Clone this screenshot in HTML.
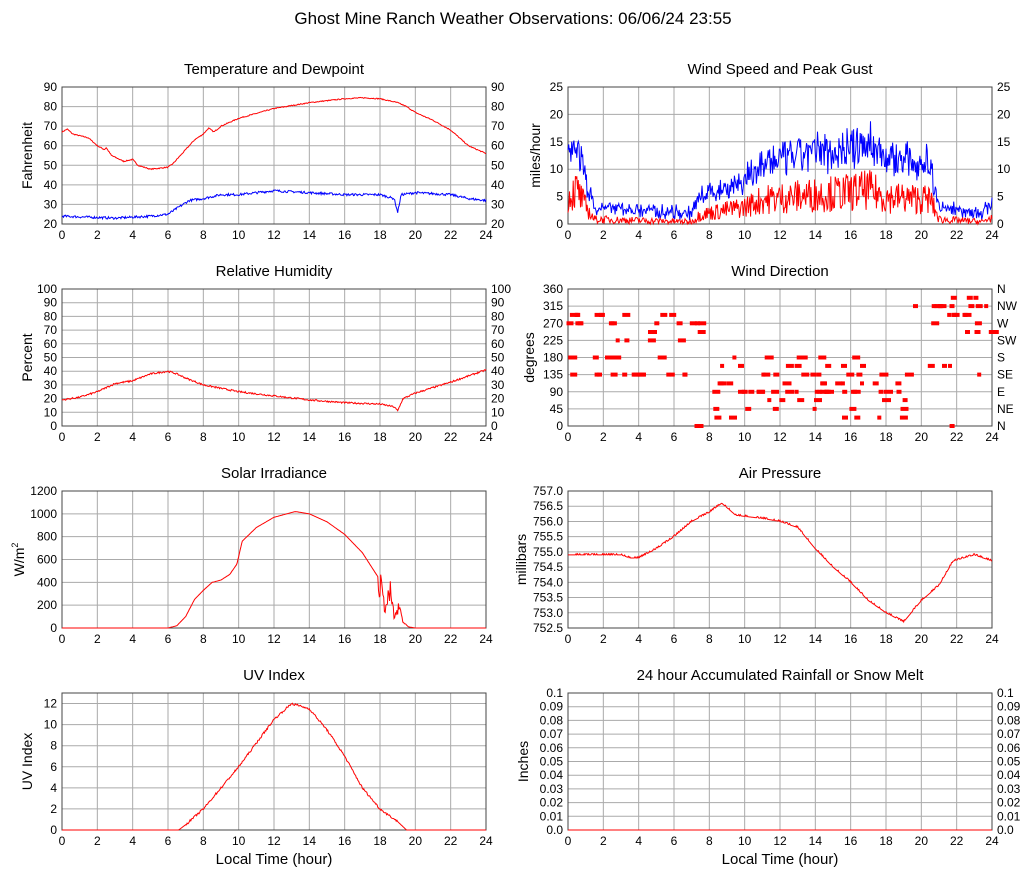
<!DOCTYPE html><html><head><meta charset="utf-8"><style>body{margin:0;background:#fff}svg{display:block;font-family:"Liberation Sans",sans-serif}</style></head><body>
<svg id="s" width="1027" height="878" xmlns="http://www.w3.org/2000/svg"></svg>
<script>
var s=document.getElementById('s'),h='';
var seed=7;function rnd(){seed=(seed*16807)%2147483647;return seed/2147483647;}
function lerp(k,t){for(var i=1;i<k.length;i++){if(t<=k[i][0]){var a=k[i-1],b=k[i];return a[1]+(b[1]-a[1])*(t-a[0])/(b[0]-a[0]);}}return k[k.length-1][1];}
function T(x,y,t,o){h+='<text x="'+x+'" y="'+y+'" '+(o||'')+'>'+t+'</text>';}
function panel(px,py,title,ymin,ymax,step,ylab,right,dec,xlab,rl,ll,nn,off){
 var W=424,H=137;
 T(px+W/2,py-13,title,'font-size="15" text-anchor="middle"');
 var n=nn||Math.round((ymax-ymin)/step);
 for(var i=0;i<=12;i++){var x=px+i*W/12;h+='<line x1="'+x+'" y1="'+py+'" x2="'+x+'" y2="'+(py+H)+'" stroke="#aaa"/>';T(x,py+H+15,i*2,'font-size="12" text-anchor="middle"');}
 for(var j=0;j<=n;j++){var y=py+H-(j*step)/(ymax-ymin)*H,v=ll?ll[j]:(ymin+j*step).toFixed(dec);h+='<line x1="'+px+'" y1="'+y+'" x2="'+(px+W)+'" y2="'+y+'" stroke="#aaa"/>';T(px-5,y+4,v,'font-size="12" text-anchor="end"');if(right)T(px+W+5,y+4,rl?rl[j]:v,'font-size="12"');}
 h+='<rect x="'+px+'" y="'+py+'" width="'+W+'" height="'+H+'" fill="none" stroke="#444"/>';
 var cy=py+H/2;h+='<text transform="translate('+(px-(off||30))+','+cy+') rotate(-90)" font-size="14" text-anchor="middle">'+ylab+'</text>';
 if(xlab)T(px+W/2,py+H+34,'Local Time (hour)','font-size="15" text-anchor="middle"');
 return function(f,col){var d='';for(var k=0;k<=576;k++){var t=k/24,v=f(t);if(v===null)continue;var x=px+t/24*W,y=py+H-(v-ymin)/(ymax-ymin)*H;y=Math.max(py,Math.min(py+H,y));d+=(d?'L':'M')+x.toFixed(1)+' '+y.toFixed(1);}h+='<path d="'+d+'" fill="none" stroke="'+col+'" stroke-width="1"/>';};
}
T(513,24,'Ghost Mine Ranch Weather Observations: 06/06/24 23:55','font-size="17" text-anchor="middle"');
var L=62,R=568;
var p=panel(L,87,'Temperature and Dewpoint',20,90,10,'Fahrenheit',true,0);
var tk=[[0,67],[0.3,68.5],[0.6,66],[1.5,64],[2,60],[2.4,58],[2.5,59],[2.8,55],[3.5,52],[4,53],[4.3,50],[5,48],[6,49],[6.3,51],[7,58],[7.5,63],[8,66],[8.3,69],[8.6,67],[9,70],[10,74],[12,79],[14,82],[16,84],[17,84.5],[18,84],[19,82],[19.5,80],[20,77],[21,73],[22,68],[23,60],[24,56]];
p(function(t){return lerp(tk,t)+(rnd()-.5)*0.5},'red');
var dk=[[0,24],[3,23],[5,24],[6,25],[6.5,28],[7.2,32],[8,33],[9,35],[10,35],[12,37],[14,36],[16,35],[18,35],[18.8,33],[19,26],[19.2,35],[20,36],[22,35],[23,33],[24,32]];
p(function(t){return lerp(dk,t)+(rnd()-.5)*1.2},'blue');
p=panel(L,289,'Relative Humidity',0,100,10,'Percent',true,0);
var rk=[[0,19],[1,21],[2,25],[3,31],[4,33],[5,38],[6,40],[6.5,38],[7,35],[8,30],[10,25],[12,22],[14,19],[16,17],[18,16],[18.8,14],[19,11],[19.3,20],[20,24],[22,32],[24,41]];
p(function(t){return lerp(rk,t)+(rnd()-.5)*1.2},'red');
p=panel(R,87,'Wind Speed and Peak Gust',0,25,5,'miles/hour',true,0,false,null,null,null,28);
var gk=[[0,12],[0.5,15],[1,8],[1.5,3],[7,2],[7.5,5],[10,8],[11,11],[14,13],[16,14],[17,15],[18,12],[20.5,11],[21,3],[23.5,2],[24,4]];
var gv=[];for(var k=0;k<=576;k++){var t=k/24,b=lerp(gk,t);gv.push(Math.max(0,b+(rnd()-.5)*b*0.5+(rnd()-.5)*2));}
p(function(t){return gv[Math.round(t*24)]},'blue');
p(function(t){var b=lerp(gk,t);return Math.max(0,b*0.45+(rnd()-.5)*b*0.5-0.5)},'red');
panel(R,289,'Wind Direction',0,360,45,'degrees',true,0,false,['N','NE','E','SE','S','SW','W','NW','N'],null,null,34);
for(var k=0;k<150;k++){var t=rnd()*24,v;
 if(t<7.5)v=[225,270,270,292,292,247,180,135][Math.floor(rnd()*8)];else if(t<19.2)v=[45,68,90,90,112,112,135,158,180,22][Math.floor(rnd()*10)];else v=[292,315,315,337,270,247,135,158][Math.floor(rnd()*8)];
 if(k<4)v=0,t=k<2?7+rnd()*.3:21.6+rnd()*.3;
 var x=R+t/24*424,y=289+137-v/360*137;h+='<rect x="'+(x-2).toFixed(1)+'" y="'+(y-2).toFixed(1)+'" width="'+(4+rnd()*6|0)+'" height="4" fill="red"/>';}
p=panel(L,491,'Solar Irradiance',0,1200,200,'W/m<tspan font-size="9" dy="-6">2</tspan>',false,0,false,null,null,null,38);
var sk=[[0,0],[6,0],[6.5,20],[7,100],[7.5,250],[8,330],[8.5,400],[9,420],[9.5,470],[9.9,560],[10.2,760],[11,880],[12,970],[13.2,1020],[14,1000],[15,930],[16,820],[17,660],[18,420],[18.3,200],[18.6,350],[18.8,100],[19.1,200],[19.3,60],[19.6,10],[20,0],[24,0]];
p(function(t){var v=lerp(sk,t);if(t>17.9&&t<19.5)v*=0.6+rnd()*0.6;return v},'red');
p=panel(R,491,'Air Pressure',752.5,757,0.5,'millibars',false,1,false,null,null,null,42);
var pk=[[0,754.9],[3,754.9],[3.5,754.8],[4,754.8],[5,755.1],[6,755.5],[7,756.0],[8,756.3],[8.7,756.6],[9.5,756.2],[11,756.1],[12,756.0],[13,755.8],[14,755.1],[15,754.5],[16,754.0],[17,753.4],[18,753.0],[19,752.7],[20,753.4],[21,753.9],[21.8,754.7],[23,754.9],[24,754.7]];
p(function(t){return lerp(pk,t)+(rnd()<.3?0.04:0)},'red');
p=panel(L,693,'UV Index',0,13,2,'UV Index',false,0,true,null,null,6,30);
var uk=[[0,0],[6.6,0],[7,0.5],[8,2],[10,6],[12,10.5],[13,12],[14,11.5],[15,9.5],[16,7],[17,4],[18,2],[19,0.8],[19.5,0],[24,0]];
p(function(t){return lerp(uk,t)+(t>7&&t<19?(rnd()-.5)*0.2:0)},'red');
var rl=['0.0','0.01','0.02','0.03','0.04','0.05','0.06','0.07','0.08','0.09','0.1'];
p=panel(R,693,'24 hour Accumulated Rainfall or Snow Melt',0,0.1,0.01,'Inches',true,2,true,rl,rl,null,40);
p(function(){return 0},'red');
s.innerHTML=h;
</script>
</body></html>
